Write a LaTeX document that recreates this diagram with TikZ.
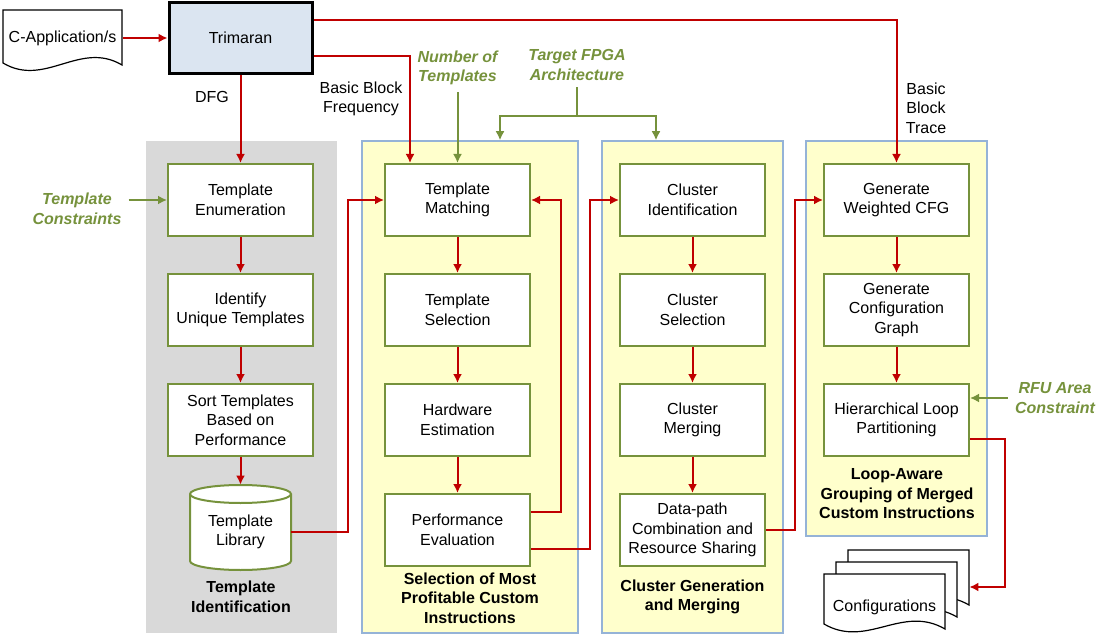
\documentclass[tikz,border=0pt]{standalone}
\usepackage{fontspec}
\setmainfont{Liberation Sans}
\usetikzlibrary{positioning, arrows.meta}

\definecolor{flowred}{RGB}{192,0,0}
\definecolor{ctgreen}{RGB}{118,146,60}
\definecolor{panelblue}{RGB}{149,179,215}
\definecolor{panelyellow}{RGB}{255,255,204}
\definecolor{panelgray}{RGB}{217,217,217}
\definecolor{trifill}{RGB}{219,229,241}

\begin{document}
\begin{tikzpicture}[x=0.5pt,y=0.5pt,>={Latex[length=4.5pt,width=4.5pt]},node distance=18pt,font=\fontsize{8}{9.75}\selectfont]
\tikzstyle{proc}=[draw=ctgreen,line width=1pt,fill=white,minimum width=72.5pt,minimum height=36pt,align=center,inner sep=0pt]
\tikzstyle{panel}=[draw=panelblue,line width=0.75pt,fill=panelyellow,inner sep=0pt]
\tikzstyle{title}=[font=\fontsize{8}{9.75}\selectfont\bfseries,align=center]
\tikzstyle{param}=[text=ctgreen,font=\fontsize{8}{9.75}\selectfont\bfseries\itshape,align=center]
\tikzstyle{info}=[align=center]
\tikzstyle{flow}=[draw=flowred,line width=1pt,->]
\tikzstyle{feed}=[draw=ctgreen,line width=1pt,->]
\tikzstyle{docpage}=[draw=black,line width=0.6pt,fill=white]

\useasboundingbox (0,0) rectangle (1098,-642);

% panels
\node[panel,draw=none,fill=panelgray,minimum width=95.5pt,minimum height=246pt] (idpanel) at (241.5,-387) {};
\node[panel,minimum width=108pt,minimum height=246pt] (selpanel) at (470,-387) {};
\node[panel,minimum width=90.5pt,minimum height=246pt] (clpanel) at (692.5,-387) {};
\node[panel,minimum width=90.5pt,minimum height=197.5pt] (looppanel) at (896.5,-338.5) {};

\node[title] (idtitle) at (241,-597) {Template\\Identification};
\node[title] (seltitle) at (470,-598) {Selection of Most\\Profitable Custom\\Instructions};
\node[title] (cltitle) at (692.5,-597) {Cluster Generation\\and Merging};
\node[title] (looptitle) at (897,-494) {Loop-Aware\\Grouping of Merged\\Custom Instructions};

% input and compiler
\draw[docpage] (3,-10) -- (122,-10) -- (122,-65) .. controls (80,-40) and (45,-88) .. (3,-63) -- cycle;
\node[minimum width=59.5pt,minimum height=27.5pt] (capp) at (62.5,-38) {C-Application/s};
\node[draw=black,line width=1.5pt,fill=trifill,minimum width=71.5pt,minimum height=35.5pt] (trimaran) at (240.5,-38) {Trimaran};

% template identification
\node[proc] (tenum) at (240.5,-200) {Template\\Enumeration};
\node[proc,below=of tenum] (uniq) {Identify\\Unique Templates};
\node[proc,below=of uniq] (sortt) {Sort Templates\\Based on\\Performance};
\draw[draw=ctgreen,line width=1pt,fill=white] (190,-494) -- (190,-561) arc[start angle=180,end angle=360,x radius=50.5,y radius=9] -- (291,-494) arc[start angle=0,end angle=180,x radius=50.5,y radius=9] -- cycle;
\draw[draw=ctgreen,line width=1pt] (190,-494) arc[start angle=180,end angle=360,x radius=50.5,y radius=9];
\node[minimum width=50.5pt,minimum height=47pt,align=center] (tlib) at (240.5,-532) {Template\\Library};

% template selection
\node[proc] (tmatch) at (457.5,-200) {Template\\Matching};
\node[proc,below=of tmatch] (tsel) {Template\\Selection};
\node[proc,below=of tsel] (hwest) {Hardware\\Estimation};
\node[proc,below=of hwest] (perf) {Performance\\Evaluation};

% clusters
\node[proc] (cid) at (692.5,-200) {Cluster\\Identification};
\node[proc,below=of cid] (csel) {Cluster\\Selection};
\node[proc,below=of csel] (cmerge) {Cluster\\Merging};
\node[proc,below=of cmerge] (dpath) {Data-path\\Combination and\\Resource Sharing};

% loop-aware grouping
\node[proc] (gcfg) at (896.5,-200) {Generate\\Weighted CFG};
\node[proc,below=of gcfg] (gconf) {Generate\\Configuration\\Graph};
\node[proc,below=of gconf] (hlp) {Hierarchical Loop\\Partitioning};

% output pages
\foreach \d in {24,12,0}
  \draw[docpage] (824+\d,-574+\d) -- (945+\d,-574+\d) -- (945+\d,-629+\d) .. controls (902+\d,-604+\d) and (867+\d,-649+\d) .. (824+\d,-624+\d) -- cycle;
\node[minimum width=60.5pt] (configs) at (884.5,-607) {Configurations};

% labels and constraints
\node[info] (dfg) at (212,-97) {DFG};
\node[info] (bbfreq) at (361,-99) {Basic Block\\Frequency};
\node[info] (bbtrace) at (926,-108) {Basic\\Block\\Trace};
\node[param] (ntemp) at (457.5,-68) {Number of\\Templates};
\node[param] (fpga) at (577,-65) {Target FPGA\\Architecture};
\node[param] (tcons) at (77,-209) {Template\\Constraints};
\node[param] (rfu) at (1055,-398) {RFU Area\\Constraint};
\coordinate (fsplit) at (577,-116);

% red flow
\draw[flow] (capp.east) -- (capp.east -| trimaran.west);
\draw[flow] ([yshift=9pt]trimaran.east) -| (gcfg.north);
\draw[flow] ([yshift=-9pt]trimaran.east) -| ([xshift=-23.75pt]tmatch.north);
\draw[flow] (trimaran) -- (tenum);
\draw[flow] (tenum) -- (uniq);
\draw[flow] (uniq) -- (sortt);
\draw[flow] (sortt) -- (tlib);
\draw[flow] (tmatch) -- (tsel);
\draw[flow] (tsel) -- (hwest);
\draw[flow] (hwest) -- (perf);
\draw[flow] (cid) -- (csel);
\draw[flow] (csel) -- (cmerge);
\draw[flow] (cmerge) -- (dpath);
\draw[flow] (gcfg) -- (gconf);
\draw[flow] (gconf) -- (hlp);
\draw[flow] (tlib.east) -- ++(57,0) |- (tmatch.west);
\draw[flow] ([yshift=9pt]perf.east) -- ++(30,0) |- (tmatch.east);
\draw[flow] ([yshift=-9.5pt]perf.east) -- ++(59,0) |- (cid.west);
\draw[flow] (dpath.east) -- ++(29,0) |- (gcfg.west);
\draw[flow] ([yshift=-9.5pt]hlp.east) -- ++(35,0) |- ([xshift=12pt,yshift=10pt]configs.east);

% green constraints
\draw[feed] (tcons.east |- tenum.west) -- (tenum.west);
\draw[feed] (rfu.west) -- (rfu.west -| hlp.east);
\draw[feed] (ntemp) -- (tmatch.north);
\draw[ctgreen,line width=1pt] (fpga) -- (fsplit);
\draw[feed] (fsplit) -| ([xshift=15pt]selpanel.north);
\draw[feed] (fsplit) -| ([xshift=-18.25pt]clpanel.north);
\end{tikzpicture}
\end{document}
